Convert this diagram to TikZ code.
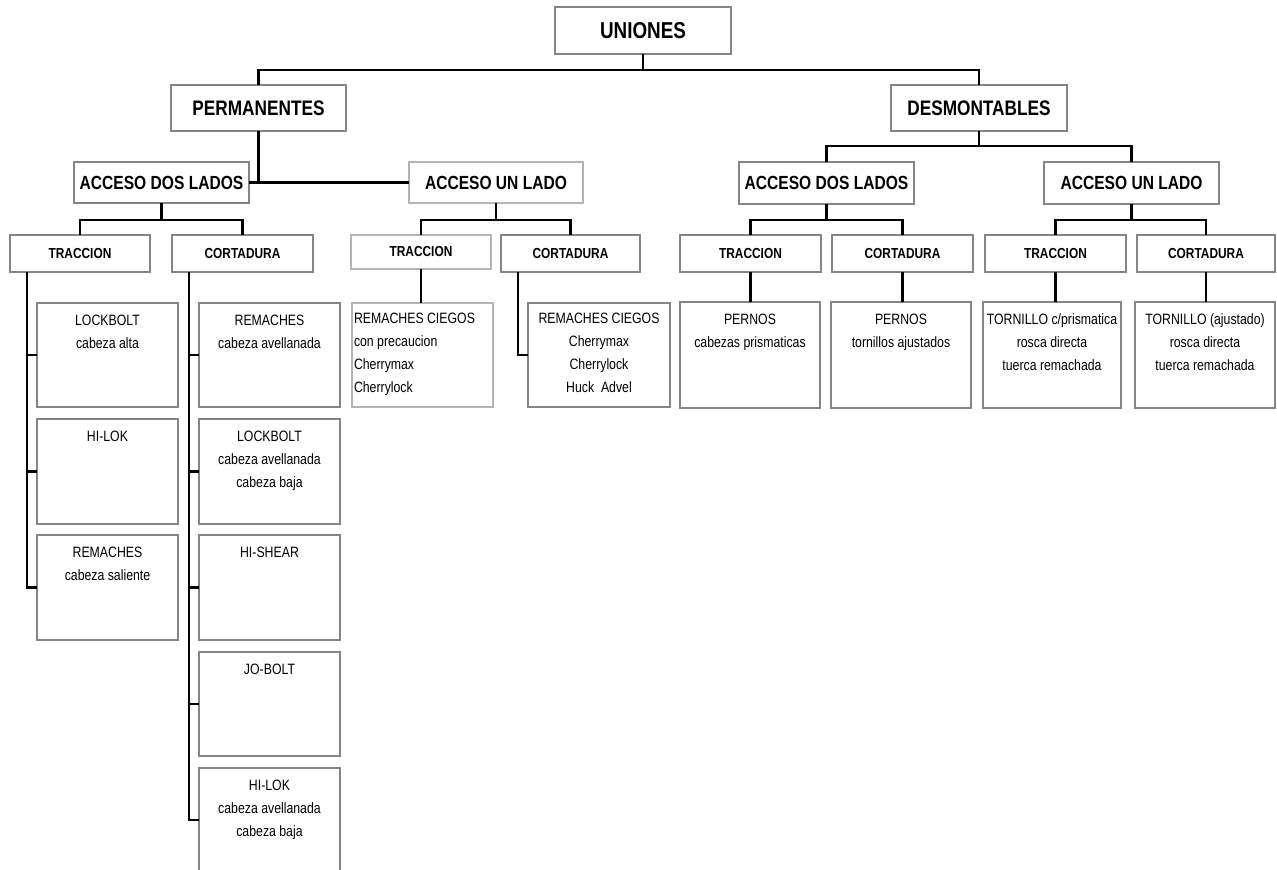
\documentclass[tikz,border=0pt]{standalone}
\usepackage{fontspec}
\setmainfont{Liberation Sans}[FakeStretch=0.82]
\usetikzlibrary{calc}
\definecolor{boxgray}{HTML}{858585}
\definecolor{lightgray}{HTML}{B4B4B4}
\tikzset{
  hb/.style={draw=boxgray, line width=2pt, fill=white, inner sep=0pt, outer sep=0pt, anchor=north west},
  hlight/.style={hb, draw=lightgray, line width=1.2pt},
  f1/.style={font=\fontsize{23}{27}\selectfont\bfseries},
  f2/.style={font=\fontsize{21}{25}\selectfont\bfseries},
  f3/.style={font=\fontsize{19}{23}\selectfont\bfseries},
  f4/.style={font=\fontsize{14.5}{17}\selectfont\bfseries},
  lb/.style={draw=boxgray, line width=2pt, fill=white, inner sep=0pt, outer sep=0pt, anchor=north west, font=\fontsize{15}{23}\selectfont},
  llight/.style={lb, draw=lightgray, line width=1.2pt},
  conn/.style={draw=black, line width=2.2pt}
}
\newcommand\leafnode[7][lb]{%
  \node[#1, minimum width=#5pt, minimum height=#6pt] (#2) at (#3,#4)
    {\parbox[t][#6pt][t]{#5pt}{\centering\rule{0pt}{22pt}#7}};}
\begin{document}
\begin{tikzpicture}[x=1pt,y=-1pt]
\useasboundingbox (0,0) rectangle (1277,870);
\clip (0,0) rectangle (1277,870);
\fill[white] (0,0) rectangle (1277,870);
% headers
\node[hb,f1,minimum width=176pt,minimum height=47pt] (uni) at (555,7) {UNIONES};
\node[hb,f2,minimum width=175pt,minimum height=46pt] (perm) at (171,85) {PERMANENTES};
\node[hb,f2,minimum width=176pt,minimum height=46pt] (desm) at (891,85) {DESMONTABLES};
\node[hb,f3,minimum width=175pt,minimum height=41pt] (padl) at (74,162) {ACCESO DOS LADOS};
\node[hlight,f3,minimum width=174pt,minimum height=41pt] (paul) at (409,162) {ACCESO UN LADO};
\node[hb,f3,minimum width=175pt,minimum height=42pt] (dadl) at (739,162) {ACCESO DOS LADOS};
\node[hb,f3,minimum width=175pt,minimum height=42pt] (daul) at (1044,162) {ACCESO UN LADO};
\node[hb,f4,minimum width=140pt,minimum height=37pt] (ptr) at (10,235) {TRACCION};
\node[hb,f4,minimum width=141pt,minimum height=37pt] (pco) at (172,235) {CORTADURA};
\node[hlight,f4,minimum width=140pt,minimum height=34pt] (utr) at (351,235) {TRACCION};
\node[hb,f4,minimum width=139pt,minimum height=37pt] (uco) at (501,235) {CORTADURA};
\node[hb,f4,minimum width=141pt,minimum height=37pt] (dtr1) at (680,235) {TRACCION};
\node[hb,f4,minimum width=141pt,minimum height=37pt] (dco1) at (832,235) {CORTADURA};
\node[hb,f4,minimum width=141pt,minimum height=37pt] (dtr2) at (985,235) {TRACCION};
\node[hb,f4,minimum width=138pt,minimum height=37pt] (dco2) at (1137,235) {CORTADURA};
% leaves
\leafnode{l1}{37}{303}{141}{104}{LOCKBOLT\\cabeza alta}
\leafnode{l2}{37}{419}{141}{105}{HI-LOK}
\leafnode{l3}{37}{535}{141}{105}{REMACHES\\cabeza saliente}
\leafnode{c1}{199}{303}{141}{104}{REMACHES\\cabeza avellanada}
\leafnode{c2}{199}{419}{141}{105}{LOCKBOLT\\cabeza avellanada\\cabeza baja}
\leafnode{c3}{199}{535}{141}{105}{HI-SHEAR}
\leafnode{c4}{199}{652}{141}{104}{JO-BOLT}
\leafnode{c5}{199}{768}{141}{104}{HI-LOK\\cabeza avellanada\\cabeza baja}
\node[llight, minimum width=141pt, minimum height=104pt] (u1) at (352,303)
  {\parbox[t][104pt][t]{141pt}{\raggedright\leftskip=2pt\rule{0pt}{20pt}REMACHES CIEGOS\\con precaucion\\Cherrymax\\Cherrylock}};
\node[lb, minimum width=142pt, minimum height=104pt] (u2) at (528,303)
  {\parbox[t][104pt][t]{142pt}{\centering\rule{0pt}{20pt}REMACHES CIEGOS\\Cherrymax\\Cherrylock\\Huck~ Advel}};
\leafnode{d1}{680}{302}{140}{106}{PERNOS\\cabezas prismaticas}
\leafnode{d2}{831}{302}{140}{106}{PERNOS\\tornillos ajustados}
\leafnode{d3}{983}{302}{138}{106}{TORNILLO c/prismatica\\rosca directa\\tuerca remachada}
\leafnode{d4}{1135}{302}{140}{106}{TORNILLO (ajustado)\\rosca directa\\tuerca remachada}
% connectors
\draw[conn] (uni.south) -- ++(0,16);
\draw[conn] (perm.north) -- ++(0,-15) -| (desm.north);
\draw[conn] (perm.south) |- (padl.east);
\draw[conn] (padl.east) -- (padl.east -| paul.west);
\draw[conn] (desm.south) -- ++(0,15);
\draw[conn] (dadl.north) -- ++(0,-16) -| (daul.north);
\draw[conn] (padl.south) -- ++(0,16);
\draw[conn] (ptr.north) -- ++(0,-15) -| (pco.north);
\draw[conn] (paul.south) -- ++(0,17);
\draw[conn] (utr.north) -- ++(0,-15) -| (uco.north);
\draw[conn] (dadl.south) -- ++(0,16);
\draw[conn] (dtr1.north) -- ++(0,-15) -| (dco1.north);
\draw[conn] (daul.south) -- ++(0,16);
\draw[conn] (dtr2.north) -- ++(0,-15) -| (dco2.north);
\draw[conn] ([xshift=17pt]ptr.south west) |- (l3.west);
\draw[conn] (l1.west) -- ++(-10,0);
\draw[conn] (l2.west) -- ++(-10,0);
\draw[conn] ([xshift=17pt]pco.south west) |- (c5.west);
\draw[conn] (c1.west) -- ++(-10,0);
\draw[conn] (c2.west) -- ++(-10,0);
\draw[conn] (c3.west) -- ++(-10,0);
\draw[conn] (c4.west) -- ++(-10,0);
\draw[conn] (utr.south) -- (utr.south |- u1.north);
\draw[conn] ([xshift=17pt]uco.south west) |- (u2.west);
\draw[conn] (dtr1.south) -- (dtr1.south |- d1.north);
\draw[conn] (dco1.south) -- (dco1.south |- d2.north);
\draw[conn] (dtr2.south) -- (dtr2.south |- d3.north);
\draw[conn] (dco2.south) -- (dco2.south |- d4.north);
\end{tikzpicture}
\end{document}
